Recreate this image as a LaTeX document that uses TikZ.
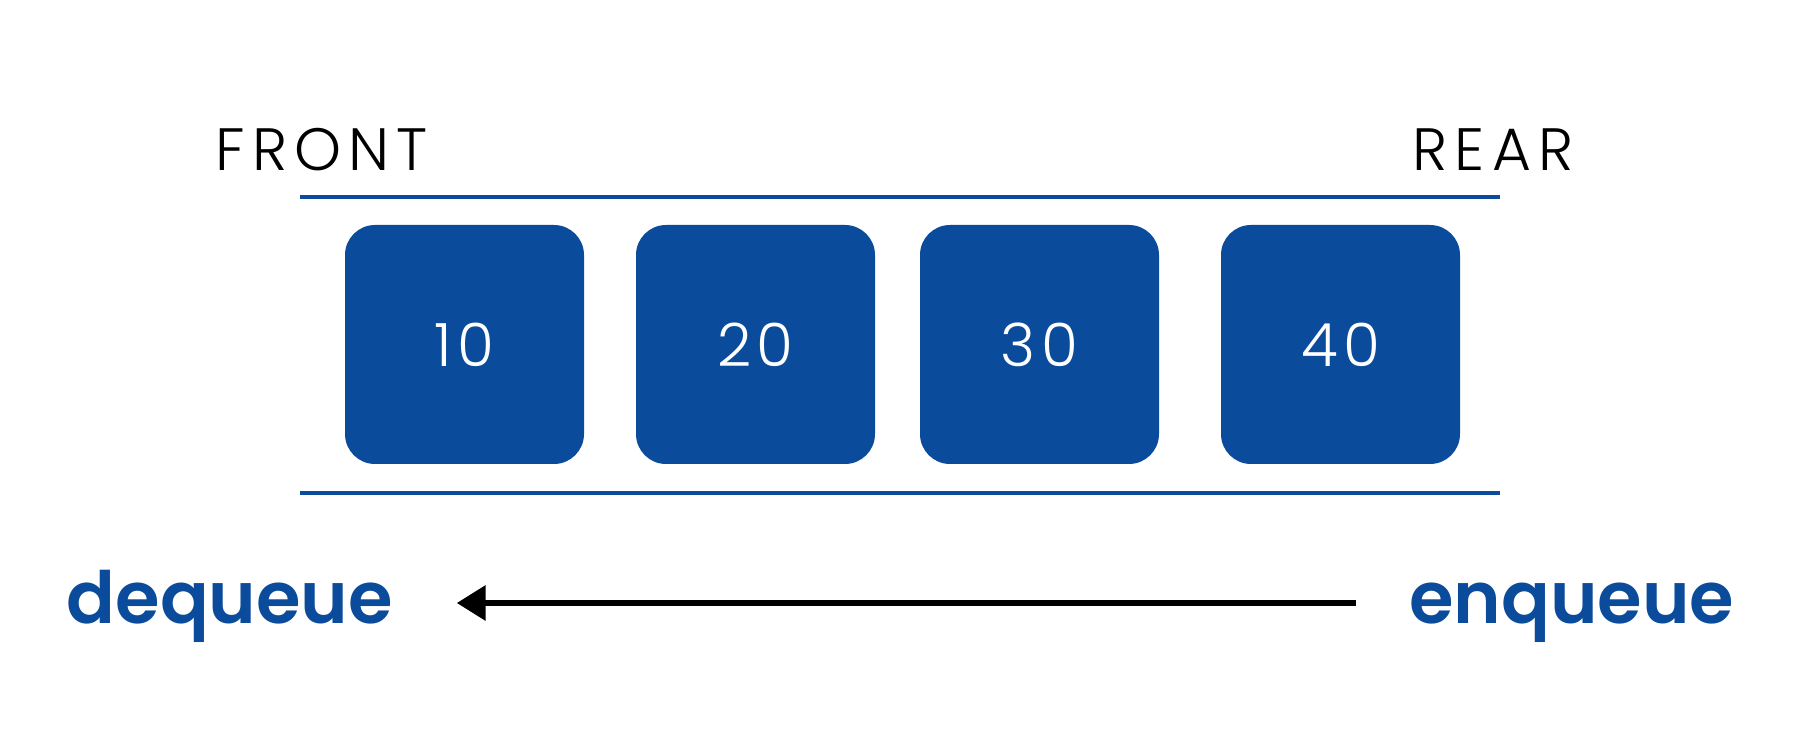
\documentclass[tikz,border=0pt]{standalone}
\usepackage{fontspec}
\setmainfont{Poppins}
\newfontfamily\lightfont{Poppins Light}[LetterSpace=9]
\newfontfamily\widefont{Poppins Light}[LetterSpace=12]
\newfontfamily\semifont{Poppins SemiBold}
\usetikzlibrary{positioning, arrows.meta}
\definecolor{qblue}{RGB}{11,75,155}
\tikzstyle{cell} = [rectangle, rounded corners=0.3cm, minimum width=2.39cm, minimum height=2.39cm, inner sep=0pt, outer sep=0pt, text centered, draw=none, fill=qblue, text=white, font=\lightfont\fontsize{17}{17}\selectfont]
\tikzstyle{tag} = [inner sep=0pt, font=\widefont\fontsize{17}{17}\selectfont]
\tikzstyle{op} = [inner sep=0pt, text=qblue, font=\semifont\fontsize{20.5}{20.5}\selectfont]
\tikzstyle{rail} = [qblue, line width=1.2pt]
\tikzstyle{arrow} = [line width=1.9pt, -{Triangle[length=0.29cm, width=0.34cm]}]

\begin{document}
\begin{tikzpicture}
		\useasboundingbox (0,0) rectangle (18,7.5);
		\coordinate (topl) at (3,5.53);
		\coordinate (topr) at (15,5.53);
		\coordinate (botl) at (3,2.57);
		\coordinate (botr) at (15,2.57);
		\node (front) [tag, anchor=base west] at (2.15,5.79) {FRONT};
		\node (rear) [tag, anchor=base east] at (15.74,5.79) {REAR};
		\node (c10) [cell] at (4.645,4.055) {10};
		\node (c20) [cell, right = 0.52cm of c10] {20};
		\node (c30) [cell, right = 0.45cm of c20] {30};
		\node (c40) [cell, right = 0.62cm of c30] {40};
		\draw [rail] (topl) -- (topr);
		\draw [rail] (botl) -- (botr);
		\node (deq) [op, anchor=base west] at (0.66,1.26) {dequeue};
		\node (enq) [op, anchor=base east] at (17.35,1.26) {enqueue};
		\draw [arrow] ([shift={(-0.53,0.21)}]enq.base west) -- ([shift={(0.63,0.21)}]deq.base east);
	\end{tikzpicture}
\end{document}
